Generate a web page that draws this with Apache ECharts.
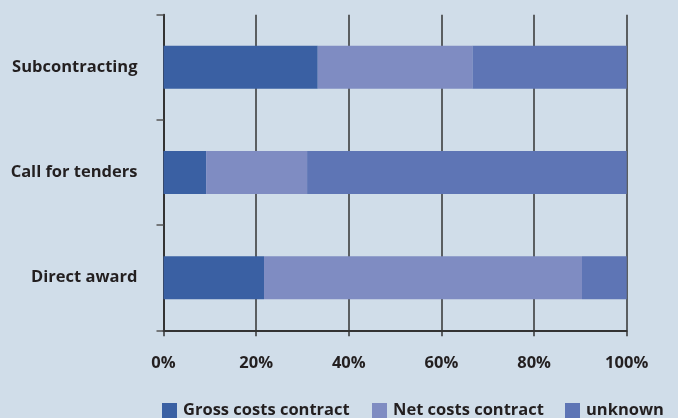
<!DOCTYPE html>
<html>
<head>
<meta charset="utf-8">
<script src="https://cdn.jsdelivr.net/npm/echarts@6/dist/echarts.min.js"></script>
<style>
html,body{margin:0;padding:0;background:#d0dde9;}
#chart{width:678px;height:418px;}
</style>
</head>
<body>
<div id="chart"></div>
<script>
const categories = ['Direct award', 'Call for tenders', 'Subcontracting'];
const seriesNames = ['Gross costs contract', 'Net costs contract', 'unknown'];
const grossCosts = [21.7, 9.2, 33.3];
const netCosts = [68.65, 21.8, 33.4];
const unknownCosts = [9.65, 69.0, 33.3];
const xTickLabels = ['0%', '20%', '40%', '60%', '80%', '100%'];

const colors = ['#3a60a3', '#7f8cc2', '#5e75b5'];
const font = '"Open Sans", "Noto Sans", sans-serif';
const textColor = '#231f20';
const fs = 16.5;

const chart = echarts.init(document.getElementById('chart'));
const values = [grossCosts, netCosts, unknownCosts];
const legendLefts = [162, 372, 565];
chart.setOption({
  backgroundColor: '#d0dde9',
  animation: false,
  textStyle: { fontFamily: font },
  grid: { left: 163.5, right: 51.3, top: 14.7, bottom: 87.7 },
  legend: seriesNames.map((n, i) => ({
    left: legendLefts[i], top: 402, padding: 0,
    itemWidth: 15, itemHeight: 15, itemGap: 6,
    icon: 'rect',
    textStyle: { fontFamily: font, fontWeight: 'bold', fontSize: fs, color: textColor, padding: [0, 0, 0, 1] },
    data: [n]
  })),
  xAxis: {
    type: 'value', min: 0, max: 100, interval: 20,
    axisLine: { show: true, lineStyle: { color: '#333', width: 2 } },
    axisTick: { show: true, length: 6, lineStyle: { color: '#333', width: 1.5 } },
    splitLine: { show: true, lineStyle: { color: '#333', width: 1.5 } },
    axisLabel: {
      margin: 24.5, fontSize: fs, fontWeight: 'bold', color: textColor, fontFamily: font,
      formatter: function (v) { return xTickLabels[Math.round(v / 20)]; }
    }
  },
  yAxis: {
    type: 'category', data: categories,
    axisLine: { show: true, lineStyle: { color: '#333', width: 2 } },
    axisTick: { show: true, length: 7, lineStyle: { color: '#555', width: 1.5 } },
    axisLabel: { margin: 26, fontSize: fs, fontWeight: 'bold', color: textColor, fontFamily: font }
  },
  series: values.map((v, i) => ({
    name: seriesNames[i], type: 'bar', stack: 'total', data: v,
    barWidth: 43, itemStyle: { color: colors[i] }
  }))
});
</script>
</body>
</html>
